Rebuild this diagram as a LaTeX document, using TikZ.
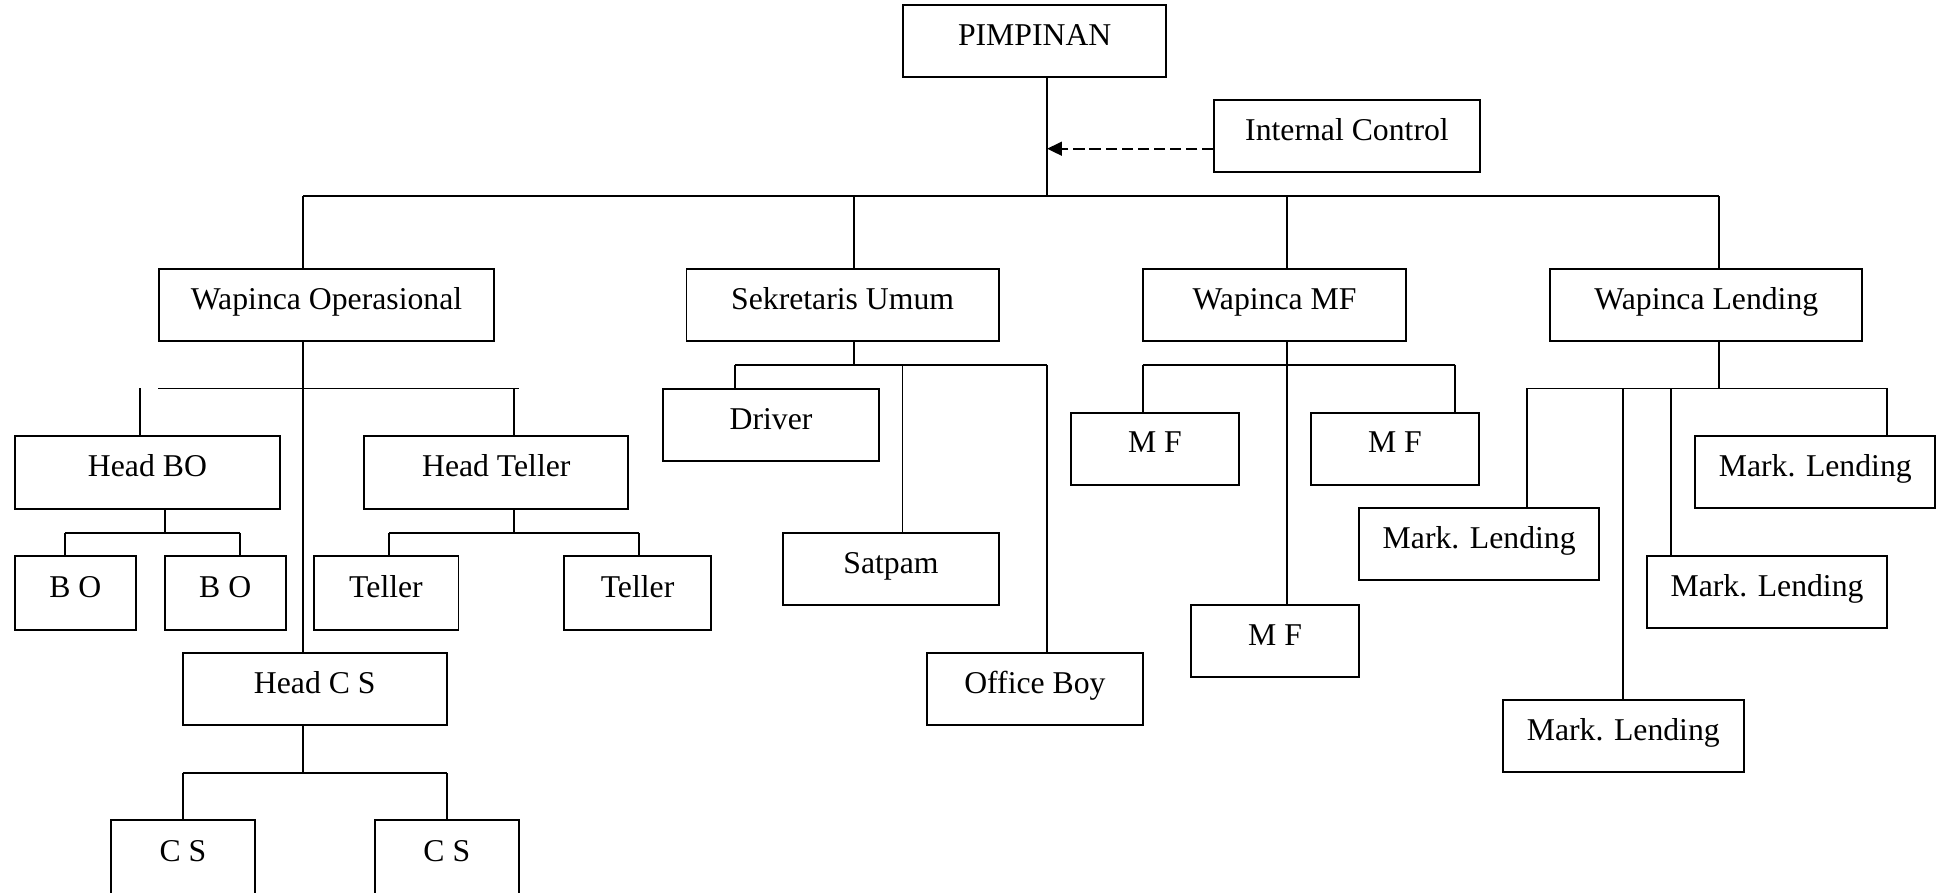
\documentclass[tikz,border=0pt]{standalone}
\usepackage{fontspec}
\setmainfont{Liberation Serif}
\usetikzlibrary{arrows.meta}
\begin{document}
\begin{tikzpicture}[x=0.5pt,y=-0.5pt,
  box/.style={draw, line width=0.8pt, inner sep=0pt, minimum height=29pt,
    text height=9pt, text depth=5.6pt, font=\fontsize{12.8}{15}\selectfont},
  conn/.style={line width=0.8pt},
  dashconn/.style={line width=0.8pt, dash pattern=on 4.5pt off 2pt, -{Triangle[length=6pt,width=5.6pt]}}]
\useasboundingbox (0,0) rectangle (1568,720);
\clip (0,0) rectangle (1568,720);
% level 0
\node[box, minimum width=106pt] (pim) at (835,33) {PIMPINAN};
\node[box, minimum width=107pt] (ic) at (1087,110) {Internal Control};
% level 1
\node[box, minimum width=135.5pt] (wo) at (263.5,246) {Wapinca Operasional};
\node[box, minimum width=126pt] (su) at (680,246) {Sekretaris Umum};
\node[box, minimum width=106.5pt] (wmf) at (1028.5,246) {Wapinca MF};
\node[box, minimum width=126pt] (wl) at (1377,246) {Wapinca Lending};
% operasional
\node[box, minimum width=107pt, minimum height=29.5pt] (hbo) at (119,381.5) {Head BO};
\node[box, minimum width=106.5pt, minimum height=29.5pt] (ht) at (400.5,381.5) {Head Teller};
\node[box, minimum width=48.75pt, minimum height=29.5pt] (bo1) at (60.75,478.5) {B O};
\node[box, minimum width=48.75pt, minimum height=29.5pt] (bo2) at (181.75,478.5) {B O};
\node[box, minimum width=58.5pt, minimum height=29.5pt] (t1) at (311.5,478.5) {Teller};
\node[box, minimum width=59.5pt, minimum height=29.5pt] (t2) at (514.5,478.5) {Teller};
\node[box, minimum width=106.5pt] (hcs) at (254,556) {Head C S};
\node[box, minimum width=58.25pt, minimum height=30pt] (cs1) at (147.6,692) {C S};
\node[box, minimum width=58pt, minimum height=30pt] (cs2) at (360.6,692) {C S};
% sekretaris
\node[box, minimum width=87.5pt] (drv) at (622.2,343) {Driver};
\node[box, minimum width=87.5pt] (sat) at (719,459) {Satpam};
\node[box, minimum width=87.25pt] (ob) at (835.2,556) {Office Boy};
% MF
\node[box, minimum width=68pt] (mf1) at (932,362) {M F};
\node[box, minimum width=68pt] (mf2) at (1125.7,362) {M F};
\node[box, minimum width=68pt] (mf3) at (1029,517.3) {M F};
% lending
\node[box, minimum width=97pt] (ml1) at (1464.9,381) {Mark. Lending};
\node[box, minimum width=97pt] (ml2) at (1193.7,439) {Mark. Lending};
\node[box, minimum width=97pt] (ml3) at (1426,478) {Mark. Lending};
\node[box, minimum width=97pt] (ml4) at (1310,594) {Mark. Lending};

% top connectors
\coordinate (top) at (845,158);
\coordinate (ica) at (845,120);
\draw[conn] (pim.south -| top) -- (top);
\draw[dashconn] (ica -| ic.west) -- (ica);
\coordinate (j1) at (244.6,158);
\coordinate (j2) at (689,158);
\coordinate (j3) at (1038.8,158);
\coordinate (j4) at (1387.2,158);
\draw[conn] (j1) -- (j4);
\draw[conn] (j1) -- (j1 |- wo.north);
\draw[conn] (j2) -- (j2 |- su.north);
\draw[conn] (j3) -- (j3 |- wmf.north);
\draw[conn] (j4) -- (j4 |- wl.north);

% operasional connectors
\coordinate (ob1) at (127.6,313.5);
\coordinate (ob2) at (419,313.5);
\coordinate (obL) at (112.8,313.5);
\coordinate (obR) at (415,313.5);
\draw[conn] (wo.south -| j1) -- (j1 |- hcs.north);
\draw[conn] (ob1) -- (ob2);
\draw[conn] (obL) -- (obL |- hbo.north);
\draw[conn] (obR) -- (obR |- ht.north);
% head BO
\coordinate (bb1) at (52.3,430);
\coordinate (bb2) at (193.5,430);
\coordinate (bbm) at (133,430);
\draw[conn] (hbo.south -| bbm) -- (bbm);
\draw[conn] (bb1) -- (bb2);
\draw[conn] (bb1) -- (bb1 |- bo1.north);
\draw[conn] (bb2) -- (bb2 |- bo2.north);
% head teller
\coordinate (tb1) at (314,430);
\coordinate (tb2) at (515.5,430);
\draw[conn] (ht.south -| obR) -- (obR |- tb1);
\draw[conn] (tb1) -- (tb2);
\draw[conn] (tb1) -- (tb1 |- t1.north);
\draw[conn] (tb2) -- (tb2 |- t2.north);
% head CS
\coordinate (cb1) at (147.4,624);
\coordinate (cb2) at (360.6,624);
\draw[conn] (hcs.south -| j1) -- (j1 |- cb1);
\draw[conn] (cb1) -- (cb2);
\draw[conn] (cb1) -- (cb1 |- cs1.north);
\draw[conn] (cb2) -- (cb2 |- cs2.north);

% sekretaris connectors
\coordinate (sb1) at (593,294.5);
\coordinate (sb2) at (728.3,294.5);
\coordinate (sb3) at (845,294.5);
\draw[conn] (su.south -| j2) -- (j2 |- sb1);
\draw[conn] (sb1) -- (sb3);
\draw[conn] (sb1) -- (sb1 |- drv.north);
\draw[conn] (sb2) -- (sb2 |- sat.north);
\draw[conn] (sb3) -- (sb3 |- ob.north);

% MF connectors
\coordinate (mb1) at (922,294.3);
\coordinate (mb2) at (1174.4,294.3);
\draw[conn] (wmf.south -| j3) -- (j3 |- mf3.north);
\draw[conn] (mb1) -- (mb2);
\draw[conn] (mb1) -- (mb1 |- mf1.north);
\draw[conn] (mb2) -- (mb2 |- mf2.north);

% lending connectors
\coordinate (lb1) at (1232.4,313.5);
\coordinate (lb2) at (1309.8,313.5);
\coordinate (lb3) at (1348.5,313.5);
\coordinate (lb4) at (1522.9,313.5);
\draw[conn] (wl.south -| j4) -- (j4 |- lb1);
\draw[conn] (lb1) -- (lb4);
\draw[conn] (lb1) -- (lb1 |- ml2.north);
\draw[conn] (lb2) -- (lb2 |- ml4.north);
\draw[conn] (lb3) -- (lb3 |- ml3.north);
\draw[conn] (lb4) -- (lb4 |- ml1.north);
\end{tikzpicture}
\end{document}
